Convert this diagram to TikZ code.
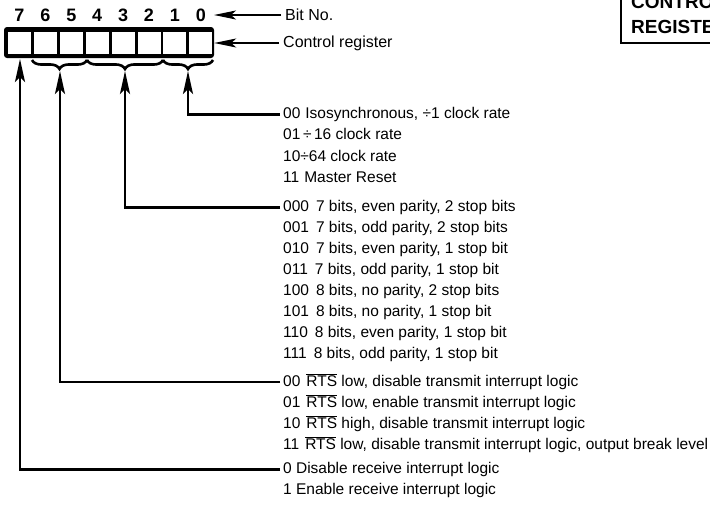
\documentclass[tikz,border=0pt]{standalone}
\usepackage{fontspec}
\setmainfont{Liberation Sans}
\usetikzlibrary{arrows.meta,decorations.pathreplacing}
\newcommand{\rtsbar}{$\overline{\mbox{RTS}}$}
\begin{document}
\begin{tikzpicture}[x=1pt,y=-1pt,
  lst/.style={anchor=base west, inner sep=0pt, font=\fontsize{15.5}{18}\selectfont},
  lbl/.style={anchor=west, inner sep=0pt, font=\fontsize{16}{19}\selectfont},
  bitnum/.style={inner sep=0pt, font=\fontsize{18}{21}\selectfont\bfseries},
  ttl/.style={anchor=base west, inner sep=0pt, font=\fontsize{19}{22}\selectfont\bfseries},
  conn/.style={line width=2.4pt, -{Stealth[length=23pt,width=10pt,inset=5pt]}},
  thinconn/.style={line width=1.6pt, -{Stealth[length=22pt,width=9pt,inset=5pt]}},
  brc/.style={decorate, decoration={brace,mirror,amplitude=9pt}, line width=2.6pt},
  regbox/.style={fill=black, rounded corners=3pt, minimum width=210pt, minimum height=31pt, inner sep=0pt}
]
\useasboundingbox (0,0) rectangle (710,504);

% title box (cropped at the right edge, as in the reference)
\draw[line width=2.5pt] (621,-20) rectangle (800,43);
\node[ttl] (ttl1) at (631,8.3) {CONTROL};
\node[ttl] (ttl2) at (631,33.3) {REGISTER};

% register
\node[regbox] (reg) at (109,42.5) {};
\foreach \i in {0,...,7}
  \fill[white] ({8+\i*25.9},32) rectangle ({31+\i*25.9},54);
\foreach \b [count=\i from 0] in {7,6,5,4,3,2,1,0}
  \node[bitnum] (d\b) at ({19.5+\i*25.9},15) {\b};

% labels at the top
\node[lbl] (bitno) at (285,15) {Bit No.};
\node[lbl] (ctrl) at (283,43) {Control register};
\coordinate (bittip) at (214,15);
\draw[thinconn] ([xshift=-4pt]bitno.west) -- (bittip);
\draw[thinconn] ([xshift=-4pt]ctrl.west) -- (reg.east |- ctrl.west);

% braces
\draw[brc] (32,60) -- (87,60);
\draw[brc] (87,60) -- (163,60);
\draw[brc] (163,60) -- (213,60);
\coordinate (tip7) at (20,59);
\coordinate (tip65) at (60,71);
\coordinate (tip42) at (125,71);
\coordinate (tip10) at (188,71);

% group A: bits 1-0
\node[lst] (a0) at (283,118.5) {00\hspace{5pt}Isosynchronous, ÷1 clock rate};
\node[lst] (a1) at (283,139.5) {01\,÷\,16 clock rate};
\node[lst] (a2) at (283,161) {10÷64 clock rate};
\node[lst] (a3) at (283,182.5) {11\hspace{5pt}Master Reset};

% group B: bits 4-2
\node[lst] (b0) at (283,211.5) {000\hspace{7pt}7 bits, even parity, 2 stop bits};
\node[lst] (b1) at (283,232.5) {001\hspace{7pt}7 bits, odd parity, 2 stop bits};
\node[lst] (b2) at (283,253.5) {010\hspace{7pt}7 bits, even parity, 1 stop bit};
\node[lst] (b3) at (283,274.5) {011\hspace{7pt}7 bits, odd parity, 1 stop bit};
\node[lst] (b4) at (283,295.5) {100\hspace{7pt}8 bits, no parity, 2 stop bits};
\node[lst] (b5) at (283,316.5) {101\hspace{7pt}8 bits, no parity, 1 stop bit};
\node[lst] (b6) at (283,337.5) {110\hspace{7pt}8 bits, even parity, 1 stop bit};
\node[lst] (b7) at (283,358.5) {111\hspace{7pt}8 bits, odd parity, 1 stop bit};

% group C: bits 6-5
\node[lst] (c0) at (283,386.5) {00\hspace{6pt}\rtsbar{} low, disable transmit interrupt logic};
\node[lst] (c1) at (283,407.5) {01\hspace{6pt}\rtsbar{} low, enable transmit interrupt logic};
\node[lst] (c2) at (283,428.5) {10\hspace{6pt}\rtsbar{} high, disable transmit interrupt logic};
\node[lst] (c3) at (283,449.5) {11\hspace{6pt}\rtsbar{} low, disable transmit interrupt logic, output break level};

% group D: bit 7
\node[lst] (e0) at (283,473.5) {0 Disable receive interrupt logic};
\node[lst] (e1) at (283,494.5) {1 Enable receive interrupt logic};

% connectors
\draw[conn] ([xshift=-3pt]a0.west) -| (tip10);
\draw[conn] ([xshift=-3pt]b0.west) -| (tip42);
\draw[conn] ([xshift=-3pt]c0.west) -| (tip65);
\draw[conn] ([xshift=-3pt]e0.west) -| (tip7);
\end{tikzpicture}
\end{document}
